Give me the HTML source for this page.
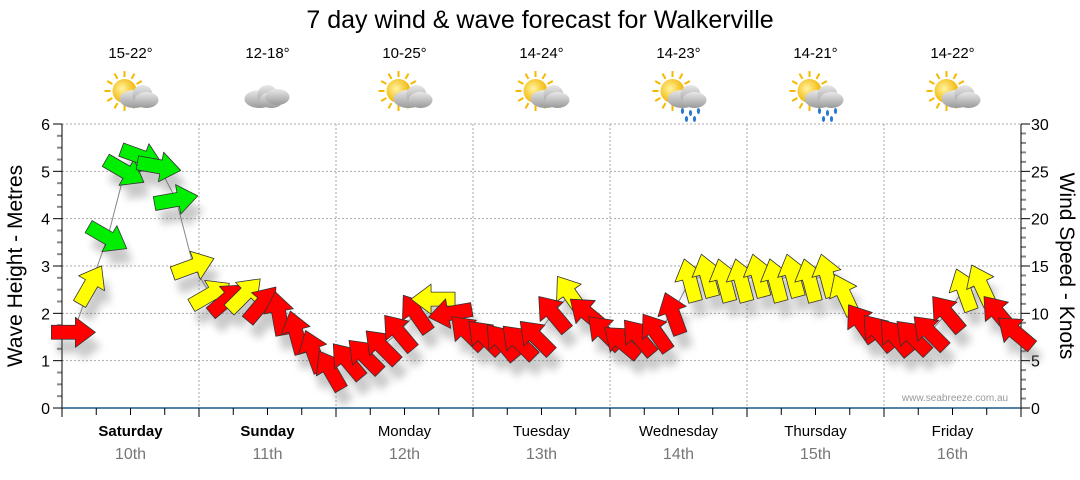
<!DOCTYPE html>
<html><head><meta charset="utf-8"><style>
body{margin:0;background:#fff;width:1080px;height:475px;overflow:hidden;font-family:"Liberation Sans",sans-serif}
</style></head><body>
<svg id="c" width="1080" height="475" font-family="Liberation Sans, DejaVu Sans, sans-serif">
<defs>
<filter id="sh" x="-50%" y="-50%" width="200%" height="200%"><feGaussianBlur stdDeviation="4"/></filter>
<radialGradient id="sun" cx="0.4" cy="0.4" r="0.6"><stop offset="0" stop-color="#fff3a0"/><stop offset="1" stop-color="#f2b400"/></radialGradient>
<linearGradient id="cl" x1="0" y1="0" x2="0" y2="1"><stop offset="0" stop-color="#e8e8e8"/><stop offset="1" stop-color="#9a9a9a"/></linearGradient>
</defs>
<text x="540" y="28" font-size="25" text-anchor="middle" fill="#000">7 day wind &amp; wave forecast for Walkerville</text>
<g id="grid"></g><g id="axes"></g><g id="icons"></g><g id="series"></g>
<text x="955" y="401" font-size="10" fill="#999" text-anchor="middle">www.seabreeze.com.au</text>
<text transform="translate(22,266) rotate(-90)" font-size="21" text-anchor="middle">Wave Height - Metres</text>
<text transform="translate(1060,266) rotate(90)" font-size="21" text-anchor="middle">Wind Speed - Knots</text>
</svg>
<script>
const days=["Saturday","Sunday","Monday","Tuesday","Wednesday","Thursday","Friday"];
const dates=["10th","11th","12th","13th","14th","15th","16th"];
const temps=["15-22°","12-18°","10-25°","14-24°","14-23°","14-21°","14-22°"];
const iconTypes=["suncloud","cloud","suncloud","suncloud","rain","rain","suncloud"];
const waveTicks=[0,1,2,3,4,5,6];
const windTicks=[0,5,10,15,20,25,30];
const hours=[2,5,8,11,14,17,20,23,26,29,32,35,38,41,44,47,50,53,56,59,62,65,68,71,74,77,80,83,86,89,92,95,98,101,104,107,110,113,116,119,122,125,128,131,134,137,140,143,146,149,152,155,158,161,164,167];
const speeds=[8,13,18,25,26.5,25.5,22,15,12,11.5,12,11,10,8,6,4,5,5.5,6.5,8,10,11.5,10,8,7.5,7,7,7.5,10,12,10,8,7,7.5,8,10,13.5,14,13.5,13.5,14,13.5,14,13.5,14,12,9,8,7.5,7.5,8,10,12.5,13,10,8];
const dirs=[0,-60,30,30,20,10,-10,-20,-30,-40,-45,-50,-100,-105,-110,-120,-130,-135,-135,-130,-125,180,170,-135,-135,-130,-135,-135,-130,-125,-140,-135,-140,-130,-125,-110,-105,-105,-105,-105,-105,-105,-105,-105,-105,-115,-125,-130,-130,-135,-135,-130,-110,-115,-130,-140];
const cats=["r","y","g","g","g","g","g","y","y","r","y","r","r","r","r","r","r","r","r","r","r","y","r","r","r","r","r","r","r","y","r","r","r","r","r","r","y","y","y","y","y","y","y","y","y","y","r","r","r","r","r","r","y","y","r","r"];
const NS="http://www.w3.org/2000/svg";
const X0=62,X1=1021,YB=408,YT=124;
const xH=h=>X0+h*(X1-X0)/168;
const yW=v=>YB-v*(YB-YT)/6;
const yK=v=>YB-v*(YB-YT)/30;
function mk(tag,at,par){const e=document.createElementNS(NS,tag);for(const k in at)e.setAttribute(k,at[k]);par.appendChild(e);return e;}
const g=document.getElementById('grid'),ax=document.getElementById('axes'),ic=document.getElementById('icons'),se=document.getElementById('series');
waveTicks.forEach(v=>{if(v>0){const l=mk('line',{x1:X0,x2:X1,y1:yW(v),y2:yW(v),stroke:'#aaa','stroke-dasharray':'2,2'},g);

}
const t=mk('text',{x:X0-12,y:yW(v)+6,'font-size':16,'text-anchor':'end'},ax);t.textContent=v;

});
windTicks.forEach(v=>{const t=mk('text',{x:X1+10,y:yK(v)+6,'font-size':16},ax);t.textContent=v;

});
for(let i=0;i<=24;i++){const y=YB-i*(YB-YT)/24;mk('line',{x1:X0-(i%4?5:9),x2:X0,y1:y,y2:y,stroke:i%4?'#888':'#000','stroke-width':i%4?2:1},ax);}
for(let i=0;i<=30;i++){const y=yK(i);mk('line',{x1:X1,x2:X1+(i%5?5:9),y1:y,y2:y,stroke:i%5?'#888':'#000','stroke-width':i%5?2:1},ax);}
mk('line',{x1:X0,x2:X0,y1:YT,y2:YB,stroke:'#000'},ax);mk('line',{x1:X1,x2:X1,y1:YT,y2:YB,stroke:'#000'},ax);
mk('line',{x1:X0,x2:X1,y1:YB,y2:YB,stroke:'#1a5a8a','stroke-width':1.5},ax);
for(let i=0;i<=28;i++){const x=xH(i*6);mk('line',{x1:x,x2:x,y1:YB,y2:YB+(i%4?7:9),stroke:'#000'},ax);}
days.forEach((d,i)=>{const cx=xH(i*24+12);
if(i>0){const l=mk('line',{x1:xH(i*24),x2:xH(i*24),y1:YT,y2:YB,stroke:'#aaa','stroke-dasharray':'2,2'},g);

}
const t=mk('text',{x:cx,y:436,'font-size':15,'text-anchor':'middle','font-weight':i<2?'bold':'normal'},ax);t.textContent=d;


const t2=mk('text',{x:cx,y:459,'font-size':16,'text-anchor':'middle',fill:'#777'},ax);t2.textContent=dates[i];


const t3=mk('text',{x:cx,y:58,'font-size':15,'text-anchor':'middle'},ic);t3.textContent=temps[i];


const gi=mk('g',{transform:`translate(${cx},95)`},ic);


const tp=iconTypes[i];
if(tp!=='cloud'){for(let k=0;k<12;k++){const a=k*Math.PI/6;mk('line',{x1:-6+Math.cos(a)*14,y1:-4+Math.sin(a)*14,x2:-6+Math.cos(a)*20,y2:-4+Math.sin(a)*20,stroke:'#f5b800','stroke-width':2},gi);}
mk('circle',{cx:-6,cy:-4,r:12,fill:'url(#sun)'},gi);}
const ox=tp==='cloud'?-8:4;
mk('ellipse',{cx:ox,cy:4,rx:15,ry:9,fill:'url(#cl)'},gi);mk('circle',{cx:ox+8,cy:0,r:10,fill:'url(#cl)'},gi);mk('ellipse',{cx:ox+12,cy:5,rx:12,ry:8,fill:'url(#cl)'},gi);
if(tp==='cloud'){mk('ellipse',{cx:ox+18,cy:2,rx:12,ry:8,fill:'url(#cl)'},gi);}
if(tp==='rain'){[[0,16],[8,18],[16,16],[4,24],[12,24]].forEach(p=>mk('ellipse',{cx:ox+p[0],cy:p[1],rx:1.6,ry:3,fill:'#2a7ad0'},gi));}
});
let d='';hours.forEach((h,i)=>{d+=(i?'L':'M')+xH(h)+','+yK(speeds[i]);});
const pl=mk('path',{d:d,fill:'none',stroke:'#888','stroke-width':1},se);


const col={r:'#ff0000',y:'#ffff00',g:'#00ee00'};
const shape='M-22,-7 L2,-7 L2,-15 L22,0 L2,15 L2,7 L-22,7 Z';
const shG=mk('g',{filter:'url(#sh)',opacity:0.35},se);
hours.forEach((h,i)=>{mk('path',{d:shape,fill:'#666',transform:`translate(${xH(h)+6},${yK(speeds[i])+14}) rotate(${dirs[i]})`},shG);});
hours.forEach((h,i)=>{const a=mk('path',{d:shape,fill:col[cats[i]],stroke:'#333','stroke-width':0.8,'stroke-linejoin':'round',transform:`translate(${xH(h)},${yK(speeds[i])}) rotate(${dirs[i]})`},se);

});
</script>
</body></html>
